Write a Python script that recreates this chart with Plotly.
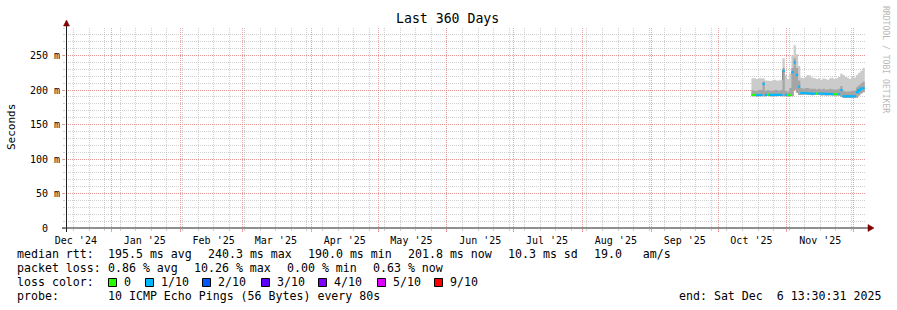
import plotly.graph_objects as go
import pandas as pd

W, H = 897, 310
PLOT_L, PLOT_R, PLOT_T, PLOT_B = 66, 866, 28, 228

# ---------------- data ----------------
range_start = "2024-12-11 13:30:31"
range_end = "2025-12-06 13:30:31"
first_day = "2025-10-16"

median_ms = [193, 193, 192.5, 193, 193,
             209,
             193, 193.5, 193, 192.5, 193, 193, 193.5, 193,
             228, 193, 192.5, 193, 226, 240, 222, 205, 196,
             195, 195.5, 195, 195, 194.5, 195, 195, 195,
             194, 194.5, 194, 194, 194.5, 194, 194, 194,
             194, 200,
             191, 190.5, 191, 190.5, 191, 191,
             197, 200, 202, 203]

loss_tenths_day = [0, 0, 1, 1, 1,
                   1,
                   1, 0, 1, 1, 1, 1, 1, 1,
                   1, 1, 0, 0, 1, 1, 1, 1, 1,
                   1, 1, 1, 1, 1, 1, 0, 1,
                   1, 1, 1, 1, 1, 1, 0, 0,
                   1, 1,
                   1, 1, 1, 1, 1, 1,
                   1, 1, 1, 1]

smoke_lo = [191, 191, 190.5, 191, 191,
            191,
            191, 191.5, 191, 190.5, 191, 191, 191.5, 191,
            191, 191, 190.5, 191, 191, 200, 196, 193, 193,
            193, 193.5, 193, 193, 192.5, 193, 193, 193,
            192, 192.5, 192, 192, 192.5, 192, 192, 192,
            192, 190,
            189, 188.5, 189, 188.5, 189, 189,
            189, 192, 195, 197]

smoke_mid = [200, 199, 199, 200, 200,
             212,
             199, 200, 199, 199, 200, 200, 199, 200,
             232, 199, 198, 203, 232, 246, 232, 214, 203,
             202, 203, 203, 202, 202, 202, 201, 202,
             201, 202, 201, 201, 202, 201, 201, 201,
             202, 206,
             199, 198, 198, 198, 199, 199,
             204, 207, 210, 212]

smoke_hi = [217, 217, 216, 217, 217,
            217,
            214, 214, 213, 214, 215, 214, 214, 215,
            246, 222, 216, 224, 250, 265, 252, 235, 218,
            217, 219, 222, 221, 218, 217, 216, 217,
            215, 217, 216, 215, 217, 218, 216, 217,
            219, 224,
            222, 219, 218, 216, 219, 218,
            222, 225, 228, 232]

# dense (dark) smoke columns at the spikes: day index, low, high
dense_day = [5, 14, 18, 19, 20, 40, 47]
dense_lo = [193, 193, 193, 218, 205, 192, 191]
dense_hi = [209, 228, 226, 240, 222, 200, 197]

month_starts = ["2024-12-01", "2025-01-01", "2025-02-01", "2025-03-01", "2025-04-01",
                "2025-05-01", "2025-06-01", "2025-07-01", "2025-08-01", "2025-09-01",
                "2025-10-01", "2025-11-01"]
month_labels = ["Dec '24", "Jan '25", "Feb '25", "Mar '25", "Apr '25", "May '25",
                "Jun '25", "Jul '25", "Aug '25", "Sep '25", "Oct '25", "Nov '25"]

ytick_vals = [0, 50, 100, 150, 200, 250]
ytick_text = ["0\u00a0\u00a0", "50 m", "100 m", "150 m", "200 m", "250 m"]

loss_names = ["0", "1/10", "2/10", "3/10", "4/10", "5/10", "9/10"]
loss_levels = [0, 1, 2, 3, 4, 5, 9]
loss_colors = ["#26ff00", "#00b8ff", "#0059ff", "#5e00ff", "#7e00ff", "#dd00ff", "#ff0000"]

legend_rtt = [("median rtt:", 16), ("195.5 ms avg", 107), ("240.3 ms max", 207),
              ("190.0 ms min", 307), ("201.8 ms now", 407), ("10.3 ms sd", 507),
              ("19.0   am/s", 593)]
legend_loss = [("packet loss:", 16), ("0.86 % avg", 107), ("10.26 % max", 193),
               ("0.00 % min", 286), ("0.63 % now", 372)]
probe_text = "10 ICMP Echo Pings (56 Bytes) every 80s"
end_text = "end: Sat Dec  6 13:30:31 2025"

# ---------------- helpers ----------------
FONT = "DejaVu Sans Mono"
GRID = "rgba(191,191,191,0.75)"
MGRID = "rgba(230,128,128,0.75)"
AXIS = "#212121"
ARROW = "#800000"
MAX_JOIN = 6  # ms: larger steps of the median are left to the dense smoke


def px(x):
    return x / W


def py(y):
    return 1 - y / H


edges = pd.date_range(first_day, periods=len(median_ms) + 1, freq="D")
centers = edges[:-1] + pd.Timedelta(hours=12)


def pad(v):
    return list(v) + [v[-1]]


fig = go.Figure()

# light smoke
fig.add_trace(go.Scatter(x=edges, y=pad(smoke_lo), mode="lines",
                         line=dict(width=0, shape="hv"), hoverinfo="skip", showlegend=False))
fig.add_trace(go.Scatter(x=edges, y=pad(smoke_hi), mode="lines",
                         line=dict(width=0, shape="hv"), fill="tonexty",
                         fillcolor="#cbcbcb", hoverinfo="skip", showlegend=False))
# mid smoke
fig.add_trace(go.Scatter(x=edges, y=pad(smoke_lo), mode="lines",
                         line=dict(width=0, shape="hv"), hoverinfo="skip", showlegend=False))
fig.add_trace(go.Scatter(x=edges, y=pad(smoke_mid), mode="lines",
                         line=dict(width=0, shape="hv"), fill="tonexty",
                         fillcolor="#a5a5a5", hoverinfo="skip", showlegend=False))
# dense smoke columns
fig.add_trace(go.Bar(x=[centers[i] for i in dense_day],
                     y=[h - l for l, h in zip(dense_lo, dense_hi)],
                     base=dense_lo, width=0.8 * 86400000,
                     marker=dict(color="#1a1a1a", line=dict(width=0)),
                     hoverinfo="skip", showlegend=False))

# median line coloured by loss
n = len(median_ms)
for lvl, col in zip(loss_levels, loss_colors):
    xs, ys = [], []
    for i in range(n):
        if loss_tenths_day[i] != lvl:
            continue
        xs += [edges[i], edges[i + 1]]
        ys += [median_ms[i], median_ms[i]]
        joined = (i + 1 < n and loss_tenths_day[i + 1] == lvl
                  and abs(median_ms[i + 1] - median_ms[i]) < MAX_JOIN)
        if not joined:
            xs.append(None)
            ys.append(None)
    if xs:
        fig.add_trace(go.Scatter(x=xs, y=ys, mode="lines",
                                 line=dict(color=col, width=2.2),
                                 hoverinfo="skip", showlegend=False))

# invisible traces on the overlay axes
for ax in ("x2", "x3"):
    fig.add_trace(go.Scatter(x=[range_start], y=[0], xaxis=ax, mode="markers",
                             marker=dict(opacity=0), hoverinfo="skip", showlegend=False))

label_pos = [pd.Timestamp(m) + pd.Timedelta(days=15) for m in month_starts]

tickfont = dict(family=FONT, size=10, color="#000000")

fig.update_layout(
    template="none",
    width=W, height=H, margin=dict(l=0, r=0, t=0, b=0, pad=0, autoexpand=False),
    paper_bgcolor="#ffffff", plot_bgcolor="#ffffff",
    barmode="overlay", showlegend=False,
    # weekly grey grid
    xaxis=dict(domain=[px(PLOT_L), px(PLOT_R)], type="date", automargin=False,
               range=[range_start, range_end],
               showgrid=True, gridcolor=GRID, griddash="1px,1px", gridwidth=1,
               tick0="2024-12-15", dtick=7 * 86400000, ticks="outside", ticklen=2,
               tickcolor=GRID, showticklabels=False, showline=False, zeroline=False,
               fixedrange=True),
    # month labels
    xaxis2=dict(overlaying="x", anchor="y", side="bottom", type="date", automargin=False,
                range=[range_start, range_end], tickvals=label_pos,
                ticktext=month_labels, showgrid=False, ticks="outside", ticklen=3,
                tickcolor="rgba(0,0,0,0)", zeroline=False,
                showline=False, tickfont=tickfont, tickangle=0, fixedrange=True),
    # monthly red grid
    xaxis3=dict(overlaying="x", anchor="y", side="bottom", type="date", automargin=False,
                range=[range_start, range_end], tick0="2025-01-01", dtick="M1",
                showgrid=True, gridcolor=MGRID, griddash="1px,1px", gridwidth=1,
                ticks="outside", ticklen=3, tickcolor=MGRID, showticklabels=False,
                zeroline=False, showline=False, fixedrange=True),
    yaxis=dict(domain=[py(PLOT_B), py(PLOT_T)], range=[0, 290], automargin=False,
               tickvals=ytick_vals, ticktext=ytick_text, tickfont=tickfont,
               showgrid=True, gridcolor=MGRID, griddash="1px,1px", gridwidth=1,
               ticks="outside", ticklen=3, tickcolor=MGRID, zeroline=False,
               showline=False,
               minor=dict(dtick=10, tick0=0, showgrid=True, gridcolor=GRID,
                          griddash="1px,1px", ticks="outside", ticklen=2,
                          tickcolor=GRID),
               fixedrange=True),
)

shapes = []
# axes with arrows
shapes.append(dict(type="line", xref="paper", yref="paper",
                   x0=px(62), x1=px(870), y0=py(228), y1=py(228),
                   line=dict(color=AXIS, width=1)))
shapes.append(dict(type="line", xref="paper", yref="paper",
                   x0=px(66.5), x1=px(66.5), y0=py(232), y1=py(24),
                   line=dict(color=AXIS, width=1)))
shapes.append(dict(type="path", xref="paper", yref="paper",
                   path=f"M {px(868)} {py(224.5)} L {px(874)} {py(228)} L {px(868)} {py(231.5)} Z",
                   fillcolor=ARROW, line=dict(color=ARROW, width=0.5)))
shapes.append(dict(type="path", xref="paper", yref="paper",
                   path=f"M {px(63.5)} {py(26)} L {px(66.5)} {py(20)} L {px(69.5)} {py(26)} Z",
                   fillcolor=ARROW, line=dict(color=ARROW, width=0.5)))

annotations = []


def txt(s, x, y, size=11.6, color="#000000", xanchor="left", angle=0):
    annotations.append(dict(text=s, x=px(x), y=py(y), xref="paper", yref="paper",
                            xanchor=xanchor, yanchor="middle", showarrow=False,
                            borderpad=0, textangle=angle,
                            font=dict(family=FONT, size=size, color=color)))


txt("Last 360 Days", 447.5, 19, size=13.2, xanchor="center")
txt("Seconds", 11, 127, size=11, xanchor="center", angle=-90)
txt("RRDTOOL / TOBI OETIKER", 886, 59, size=8.1, color="#b8b8b8", xanchor="center", angle=90)

for s, x in legend_rtt:
    txt(s.replace(" ", "&nbsp;"), x, 254)
for s, x in legend_loss:
    txt(s.replace(" ", "&nbsp;"), x, 268)

txt("loss&nbsp;color:", 16, 282)
box_x = [109, 146, 203, 262, 319, 378, 435]
for name, col, bx in zip(loss_names, loss_colors, box_x):
    shapes.append(dict(type="rect", xref="paper", yref="paper",
                       x0=px(bx - 0.5), x1=px(bx + 7.5), y0=py(286.5), y1=py(278.5),
                       fillcolor=col, line=dict(color="#000000", width=1)))
    txt(name, bx + 14, 282)

txt("probe:", 16, 296)
txt(probe_text.replace(" ", "&nbsp;"), 107, 296)
txt(end_text.replace(" ", "&nbsp;"), 678, 296)

fig.update_layout(shapes=shapes, annotations=annotations)
fig.write_html("out.html")
